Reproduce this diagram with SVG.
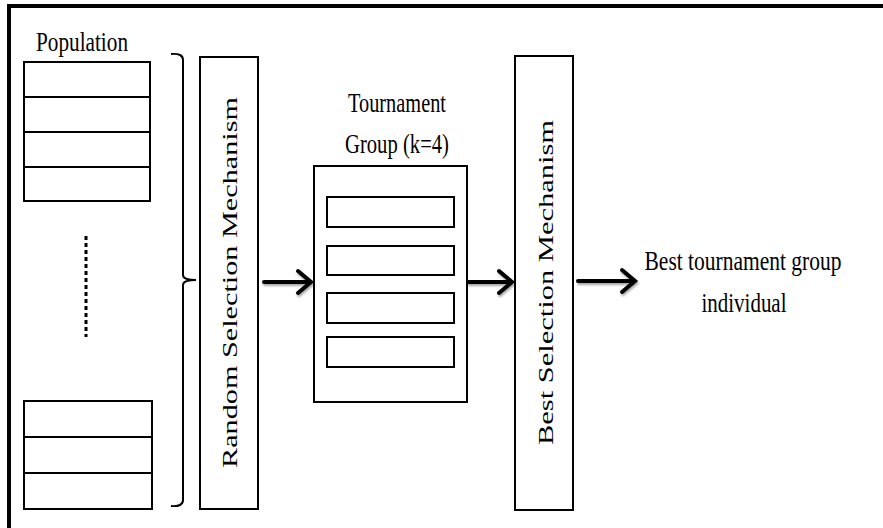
<svg xmlns="http://www.w3.org/2000/svg" width="883" height="528" viewBox="0 0 883 528">
<style>
.box{fill:#fff;stroke:#000;stroke-width:2}
.thin{fill:none;stroke:#000;stroke-width:2}
.t{font-family:"Liberation Serif","Times New Roman",serif;fill:#000}
.h{font-size:27px}
.arrow{fill:none;stroke:#000;stroke-width:4;stroke-linecap:round;stroke-linejoin:miter}
</style>
<defs>
<filter id="sh" x="-20%" y="-50%" width="140%" height="200%">
<feDropShadow dx="1" dy="2" stdDeviation="1.2" flood-color="#000" flood-opacity="0.35"/>
</filter>
</defs>
<rect width="883" height="528" fill="#fff"/>
<g id="frame">
<line x1="9" y1="6" x2="883" y2="6" stroke="#000" stroke-width="4"/>
<line x1="9" y1="4" x2="9" y2="528" stroke="#000" stroke-width="4"/>
</g>
<g id="population">
<text class="t h" x="82" y="51" text-anchor="middle" textLength="92" lengthAdjust="spacingAndGlyphs">Population</text>
<rect class="box" x="24" y="62" width="126" height="139"/>
<line class="thin" x1="24" y1="97" x2="150" y2="97"/>
<line class="thin" x1="24" y1="132" x2="150" y2="132"/>
<line class="thin" x1="24" y1="167" x2="150" y2="167"/>
<line x1="86" y1="236" x2="86" y2="337" stroke="#000" stroke-width="3" stroke-dasharray="4,3"/>
<rect class="box" x="24" y="401" width="128" height="108"/>
<line class="thin" x1="24" y1="437" x2="152" y2="437"/>
<line class="thin" x1="24" y1="473" x2="152" y2="473"/>
</g>
<g id="brace">
<path class="thin" d="M171,54 Q183,53 183,60 L183,275 Q183,280 196,280 Q183,280 183,285 L183,500 Q183,507 171,506"/>
</g>
<g id="random-selection">
<rect class="box" x="200" y="57" width="58" height="452"/>
<text class="t" transform="translate(237,282.5) rotate(-90)" font-size="21" text-anchor="middle" textLength="371" lengthAdjust="spacingAndGlyphs">Random Selection  Mechanism</text>
</g>
<g id="tournament-group">
<text class="t h" x="397" y="112" text-anchor="middle" textLength="98" lengthAdjust="spacingAndGlyphs">Tournament</text>
<text class="t h" x="397" y="153" text-anchor="middle" textLength="104" lengthAdjust="spacingAndGlyphs">Group (k=4)</text>
<rect class="box" x="314" y="166" width="153" height="236"/>
<rect class="box" x="327" y="197" width="127" height="30"/>
<rect class="box" x="327" y="246" width="127" height="29"/>
<rect class="box" x="327" y="293" width="127" height="30"/>
<rect class="box" x="327" y="337" width="127" height="30"/>
</g>
<g id="best-selection">
<rect class="box" x="515" y="56" width="58" height="454"/>
<text class="t" transform="translate(553,282.5) rotate(-90)" font-size="21" text-anchor="middle" textLength="325" lengthAdjust="spacingAndGlyphs">Best Selection  Mechanism</text>
</g>
<g id="result">
<text class="t h" x="743" y="270" text-anchor="middle" textLength="197" lengthAdjust="spacingAndGlyphs">Best tournament group</text>
<text class="t h" x="744" y="312" text-anchor="middle" textLength="85" lengthAdjust="spacingAndGlyphs">individual</text>
</g>
<g id="connectors" filter="url(#sh)">
<path class="arrow" d="M264,282 L310,282 M298,271 L311,282 L298,293"/>
<path class="arrow" d="M468,282 L511,282 M499,271 L512,282 L499,293"/>
<path class="arrow" d="M578,281 L635,281 M622,270 L635,281 L622,292"/>
</g>
</svg>
